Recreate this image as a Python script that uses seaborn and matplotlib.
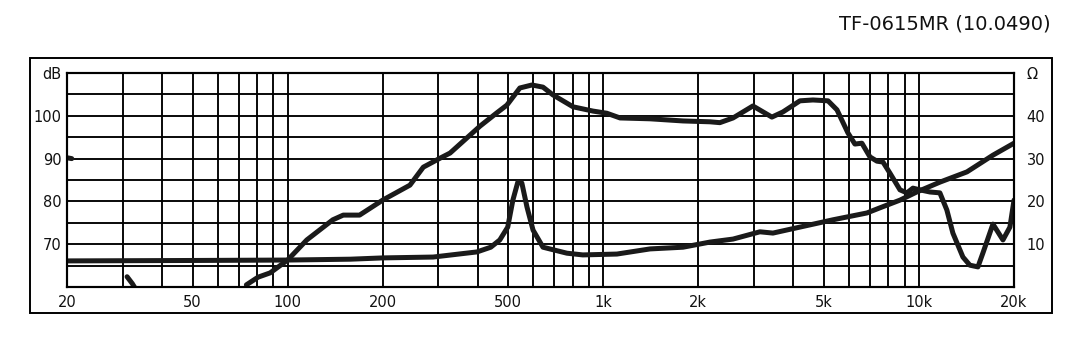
import numpy as np
import pandas as pd
import matplotlib
matplotlib.use("Agg")
import matplotlib.pyplot as plt
import matplotlib.ticker as mticker
from matplotlib.patches import Rectangle
import seaborn as sns

# SPL response (dB), split into the pieces that show inside the chart
spl_seg1_freq = [20.0, 20.7]
spl_seg1_db = [90.2, 90.0]
spl_seg2_freq = [31.0, 32.2, 33.2]
spl_seg2_db = [62.4, 60.8, 59.2]
spl_freq = [74, 80.6, 88, 100, 115, 139, 150, 169, 200, 244, 269, 304, 327,
            407, 460, 495, 544, 594, 644, 692, 802, 928, 1026, 1130, 1406,
            1788, 2178, 2340, 2576, 2978, 3420, 3706, 4196, 4614, 5150, 5498,
            5956, 6266, 6594, 6992, 7360, 7690, 8092, 8706, 9160, 9568, 10072,
            10832, 11646, 12254, 12806, 13778, 14494, 15372, 15934, 17150,
            18450, 19412, 20000]
spl_db = [60.5, 62.3, 63.3, 66.3, 71.0, 75.7, 76.8, 76.8, 80.3, 83.8, 88.0,
          90.1, 91.3, 97.6, 100.7, 102.5, 106.5, 107.2, 106.7, 104.9, 102.1,
          101.1, 100.6, 99.5, 99.3, 98.8, 98.6, 98.4, 99.5, 102.3, 99.7,
          100.9, 103.5, 103.7, 103.5, 101.4, 96.0, 93.4, 93.6, 90.4, 89.4,
          89.2, 86.6, 82.7, 82.0, 83.1, 82.7, 82.2, 82.0, 78.0, 72.6, 67.0,
          65.1, 64.7, 67.9, 74.7, 71.0, 74.0, 80.3]

# impedance (ohm)
imp_freq = [20, 50, 100, 158, 200, 289, 398, 440, 470, 498, 517, 536, 552,
            573, 599, 644, 767, 861, 1104, 1406, 1788, 2178, 2576, 3134, 3446,
            4196, 5336, 6840, 7520, 8706, 9840, 11646, 14190, 17150, 20000]
imp_ohm = [6.1, 6.2, 6.3, 6.5, 6.8, 7.0, 8.2, 9.3, 11.0, 14.0, 20.3, 24.5,
           24.3, 18.7, 13.3, 9.3, 7.9, 7.5, 7.7, 8.9, 9.3, 10.5, 11.2, 12.9,
           12.6, 14.0, 15.7, 17.3, 18.5, 20.3, 22.2, 24.5, 26.9, 30.8, 33.6]

x_ticks = [20, 50, 100, 200, 500, 1000, 2000, 5000, 10000, 20000]
x_labels = ["20", "50", "100", "200", "500", "1k", "2k", "5k", "10k", "20k"]
db_ticks = [70, 80, 90, 100, 110]
db_labels = ["70", "80", "90", "100", "dB"]
ohm_ticks = [10, 20, 30, 40, 50]
ohm_labels = ["10", "20", "30", "40", "Ω"]
title = "TF-0615MR (10.0490)"

spl_df = pd.concat([
    pd.DataFrame({"f": spl_seg1_freq, "db": spl_seg1_db, "seg": 1}),
    pd.DataFrame({"f": spl_seg2_freq, "db": spl_seg2_db, "seg": 2}),
    pd.DataFrame({"f": spl_freq, "db": spl_db, "seg": 3}),
])
imp_df = pd.DataFrame({"f": imp_freq, "ohm": imp_ohm, "seg": 1})

sns.set_style("white")
plt.rcParams["font.family"] = ["DejaVu Sans"]

fig = plt.figure(figsize=(10.72, 3.51), dpi=100)
ax = fig.add_axes([0.0625, 0.1823, 0.8834, 0.6097])
ax2 = ax.twinx()

ax.set_xscale("log")
ax.set_xlim(20, 20000)
ax.set_ylim(60, 110)
ax2.set_ylim(0, 50)

# grid
ax.xaxis.set_major_locator(mticker.FixedLocator(x_ticks))
ax.xaxis.set_minor_locator(mticker.LogLocator(base=10, subs=np.arange(1, 10)))
ax.xaxis.set_minor_formatter(mticker.NullFormatter())
ax.set_xticklabels(x_labels)
ax.yaxis.set_major_locator(mticker.FixedLocator(db_ticks))
ax.yaxis.set_minor_locator(mticker.MultipleLocator(5))
ax.set_yticklabels(db_labels)
ax2.yaxis.set_major_locator(mticker.FixedLocator(ohm_ticks))
ax2.set_yticklabels(ohm_labels)

ax.grid(True, which="both", axis="both", color="black", lw=1.35)
ax.set_axisbelow(True)
ax.tick_params(axis="both", which="both", length=0, labelsize=10.5,
               colors="#111111")
ax.tick_params(axis="x", pad=6)
ax.tick_params(axis="y", pad=4)
ax2.tick_params(axis="y", length=0, labelsize=10.5, pad=9, colors="#111111")
for a in (ax, ax2):
    for s in a.spines.values():
        s.set_color("black")
        s.set_linewidth(1.5)

sns.lineplot(data=spl_df, x="f", y="db", units="seg", estimator=None,
             sort=False, color="#1a1a1a", lw=3.6, ax=ax,
             solid_capstyle="round", solid_joinstyle="round")
sns.lineplot(data=imp_df, x="f", y="ohm", units="seg", estimator=None,
             sort=False, color="#1a1a1a", lw=3.6, ax=ax2,
             solid_capstyle="round", solid_joinstyle="round")
ax.set_xlabel("")
ax.set_ylabel("")
ax2.set_ylabel("")

# outer frame
fig.patches.append(Rectangle((0.028, 0.108), 0.953, 0.7265, transform=fig.transFigure,
                             fill=False, edgecolor="black", lw=1.4))

fig.text(0.980, 0.932, title, ha="right", va="center", fontsize=14,
         color="#111111")

fig.savefig("out.png", dpi=100)
